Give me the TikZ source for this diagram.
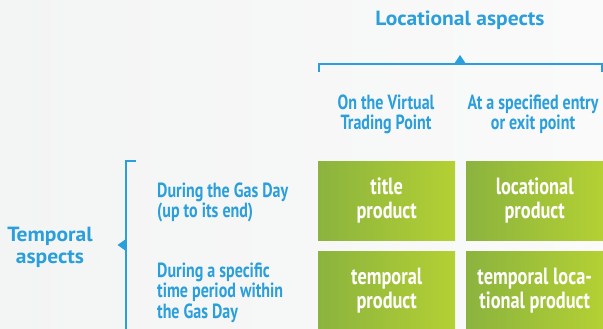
\documentclass[tikz,border=0pt]{standalone}
\usepackage{fontspec}
\setmainfont{PT Sans}
\newfontfamily\headfont{PT Sans Bold}[FakeStretch=1.05]
\newfontfamily\condfont{PT Sans Bold}[FakeStretch=0.78]
\definecolor{bgleft}{HTML}{F3F4F4}
\definecolor{bgright}{HTML}{FAFAFA}
\definecolor{ablue}{HTML}{2A9FDB}
\definecolor{gleft}{HTML}{8BB33E}
\definecolor{gright}{HTML}{B4D034}
\tikzset{
	heading/.style={text=ablue, font=\headfont\fontsize{20.5}{22}\selectfont, align=center, anchor=base, inner sep=0pt},
	sublabel/.style={text=ablue, font=\condfont\fontsize{20.5}{20.5}\selectfont, inner sep=0pt, anchor=base},
	prodbox/.style={left color=gleft, right color=gright, text=white, minimum width=137pt, minimum height=79pt, inner sep=0pt, anchor=north west, align=center, font=\condfont\fontsize{23.5}{24}\selectfont},
	bracket/.style={draw=ablue, line width=2pt},
	marker/.style={fill=ablue}
}
\begin{document}
\begin{tikzpicture}[x=1pt,y=-1pt]
	\useasboundingbox (0,0) rectangle (603,329);
	\shade[left color=bgleft, right color=bgright] (0,0) rectangle (603,329);
	\begin{scope}
		\clip (0,0) rectangle (603,329);
		\node[heading] (loc) at (460,26) {Locational aspects};
		\node[heading] (tmp) at (50,263.5) {Temporal\\aspects};
		\node[sublabel, align=center] (vtp) at (386,129.5) {On the Virtual\\Trading Point};
		\node[sublabel, align=center] (entry) at (533,129.5) {At a specified entry\\or exit point};
		\node[sublabel, align=left, anchor=base west] (gasday) at (157,217.5) {During the Gas Day\\(up to its end)};
		\node[sublabel, align=left, anchor=base west] (period) at (157,318) {During a specific\\time period within\\the Gas Day};
		\node[prodbox] (title) at (318,161) {title\\product};
		\node[prodbox] (locprod) at (466,161) {locational\\product};
		\node[prodbox] (tempprod) at (318,251) {temporal\\product};
		\node[prodbox] (templocprod) at (466,251) {temporal loca-\\tional product};
		\coordinate (lt) at (319,72);
		\coordinate (rt) at (602,72);
		\coordinate (tt) at (136,161);
		\coordinate (tb) at (126,335);
		\draw[bracket] (lt) -- ++(0,-7.5) -| (rt);
		\draw[bracket] (tt) -- ++(-10,0) -- (tb);
		\fill[marker] (454,64) -- (460,55) -- (466,64) -- cycle;
		\fill[marker] (126,239) -- (117.5,245) -- (126,251) -- cycle;
	\end{scope}
\end{tikzpicture}
\end{document}
